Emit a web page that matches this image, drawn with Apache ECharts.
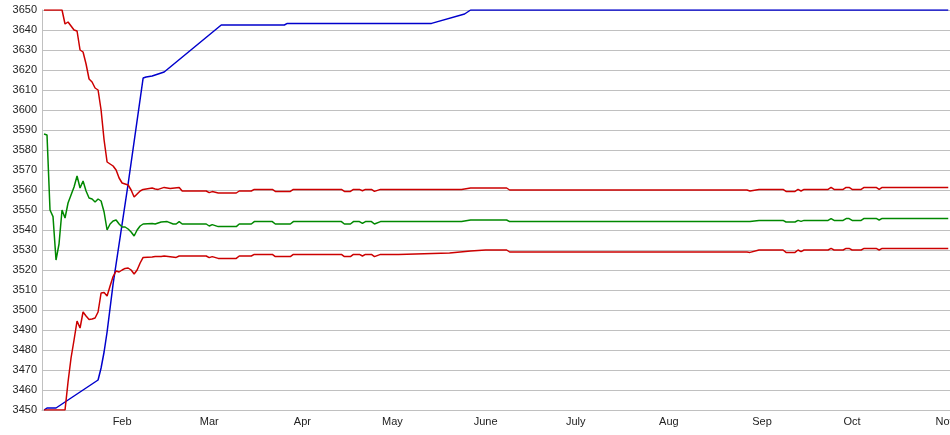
<!DOCTYPE html>
<html><head><meta charset="utf-8">
<script src="https://cdn.jsdelivr.net/npm/echarts@6/dist/echarts.min.js"></script>
<style>html,body{margin:0;padding:0;background:#fff}#c{width:950px;height:435px}</style>
</head><body><div id="c"></div>
<script>
const YEAR = 2012;
const monthTickLabels = ['Jan','Feb','Mar','Apr','May','June','July','Aug','Sep','Oct','Nov','Dec'];

const blueDates = ['01-06','01-07','01-10','01-24','01-25','01-26','01-27','01-29','02-03','02-08','02-09','02-11','02-15','03-05','03-26','03-27','05-14','05-25','05-26','05-27','11-02'];
const blueValues = [3450,3451,3451,3465,3471,3479,3489,3513,3563,3616,3616.5,3617,3619,3642.5,3642.5,3643.3,3643.3,3648,3649,3650,3650];

const upperDates = ['01-06','01-12','01-13','01-14','01-15','01-16','01-17','01-18','01-19','01-20','01-21','01-22','01-23','01-24','01-25','01-26','01-27','01-28','01-29','01-30','01-31','02-01','02-02','02-03','02-04','02-05','02-06','02-07','02-08','02-11','02-12','02-13','02-15','02-17','02-20','02-21','02-29','03-01','03-02','03-04','03-10','03-11','03-15','03-16','03-22','03-23','03-28','03-29','04-14','04-15','04-17','04-18','04-20','04-21','04-22','04-24','04-25','04-27','05-03','05-24','05-27','06-08','06-09','08-27','08-28','08-31','09-08','09-09','09-12','09-13','09-14','09-15','09-23','09-24','09-25','09-28','09-29','09-30','10-01','10-04','10-05','10-09','10-10','10-11','11-02'];
const upperValues = [3650,3650,3643,3644,3642,3640,3639.5,3630,3629,3623,3615.5,3614,3611,3610,3600,3585,3574,3573,3572,3570,3566,3563.5,3563,3562.5,3560,3556.5,3558,3559.5,3560.3,3561,3560.5,3560.3,3561.3,3560.8,3561.3,3559.5,3559.5,3558.7,3559.2,3558.5,3558.5,3559.5,3559.5,3560.3,3560.3,3559.3,3559.3,3560.3,3560.3,3559.3,3559.3,3560.3,3560.3,3559.6,3560.3,3560.3,3559.3,3560.3,3560.3,3560.3,3561,3561,3560,3560,3559.5,3560.3,3560.3,3559.3,3559.3,3560.3,3559.5,3560.3,3560.3,3561.3,3560.3,3560.3,3561.3,3561.3,3560.3,3560.3,3561.3,3561.3,3560.3,3561.3,3561.3];

const greenDates = ['01-06','01-07','01-08','01-09','01-10','01-11','01-12','01-13','01-14','01-15','01-16','01-17','01-18','01-19','01-20','01-21','01-22','01-23','01-24','01-25','01-26','01-27','01-28','01-29','01-30','01-31','02-01','02-02','02-03','02-04','02-05','02-06','02-07','02-08','02-11','02-12','02-14','02-16','02-18','02-19','02-20','02-21','02-29','03-01','03-02','03-04','03-10','03-11','03-15','03-16','03-22','03-23','03-28','03-29','04-14','04-15','04-17','04-18','04-20','04-21','04-22','04-24','04-25','04-27','05-03','05-24','05-27','06-08','06-09','08-27','08-28','08-31','09-08','09-09','09-12','09-13','09-14','09-15','09-23','09-24','09-25','09-28','09-29','09-30','10-01','10-04','10-05','10-09','10-10','10-11','11-02'];
const greenValues = [3588,3587.5,3550,3546.7,3525,3533,3550,3546,3553.5,3557.5,3561.5,3567,3561,3564.5,3559.5,3556,3555.5,3554,3555.5,3554.5,3549,3540,3543,3544.5,3545,3543,3541.5,3541.5,3540.5,3539,3537,3540,3542,3543,3543.3,3543,3544,3544.2,3543,3543,3544.2,3543,3543,3542,3542.7,3541.7,3541.7,3543,3543,3544.2,3544.2,3543,3543,3544.2,3544.2,3543,3543,3544.2,3544.2,3543.3,3544.2,3544.2,3543,3544.2,3544.2,3544.2,3545,3545,3544.2,3544.2,3544.2,3544.8,3544.8,3544,3544,3544.8,3544.3,3544.8,3544.8,3545.7,3544.8,3544.8,3545.7,3545.7,3544.8,3544.8,3545.8,3545.8,3545,3545.8,3545.8];

const lowerDates = ['01-06','01-13','01-14','01-15','01-16','01-17','01-18','01-19','01-20','01-21','01-22','01-23','01-24','01-25','01-26','01-27','01-28','01-29','01-30','01-31','02-01','02-02','02-03','02-04','02-05','02-06','02-07','02-08','02-11','02-12','02-14','02-15','02-19','02-20','02-29','03-01','03-02','03-04','03-10','03-11','03-15','03-16','03-22','03-23','03-28','03-29','04-14','04-15','04-17','04-18','04-20','04-21','04-22','04-24','04-25','04-27','05-03','05-20','05-27','06-01','06-08','06-09','08-27','08-28','08-31','09-08','09-09','09-12','09-13','09-14','09-15','09-23','09-24','09-25','09-28','09-29','09-30','10-01','10-04','10-05','10-09','10-10','10-11','11-02'];
const lowerValues = [3450,3450,3464,3476,3485,3494.5,3491,3499,3497,3495.3,3495.5,3496,3499,3508.5,3508.7,3507,3512,3516.7,3519.5,3519,3520,3520.8,3521,3520,3518,3520,3523.5,3526.3,3526.5,3526.7,3526.7,3527,3526.3,3527,3527,3526.2,3526.7,3525.8,3525.8,3527,3527,3527.8,3527.8,3526.7,3526.7,3527.8,3527.8,3526.7,3526.7,3527.8,3527.8,3527,3527.8,3527.8,3526.7,3527.8,3527.8,3528.5,3529.5,3530,3530,3529,3529,3528.8,3530,3530,3528.8,3528.8,3530,3529.2,3530,3530,3530.8,3530,3530,3530.8,3530.8,3530,3530,3530.8,3530.8,3530,3530.8,3530.8];

function ts(md){ const p = md.split('-').map(Number); return new Date(YEAR, p[0]-1, p[1]).getTime(); }
function pairs(dates, vals){ return dates.map((d,i)=>[ts(d), vals[i]]); }

const DAY = 86400000;
const font = '"Liberation Sans", Arial, sans-serif';
const chart = echarts.init(document.getElementById('c'), null, {renderer:'canvas'});
function mk(name, data, color){
  return {name, type:'line', data, showSymbol:false, symbol:'none', animation:false,
    lineStyle:{color, width:1.5}, itemStyle:{color}};
}
chart.setOption({
  animation:false,
  backgroundColor:'#fff',
  grid:{left:42, right:0, top:10, bottom:25, containLabel:false, outerBoundsMode:'none'},
  xAxis:{type:'time', min:new Date(YEAR,0,5,8).getTime(), max:new Date(YEAR,10,2,14).getTime(),
    splitNumber:10, minInterval:28*DAY, maxInterval:31*DAY,
    axisLine:{show:true, lineStyle:{color:'#c0c0c0', width:1}},
    axisTick:{show:false}, splitLine:{show:false},
    axisLabel:{color:'#222', fontSize:11, fontFamily:font, margin:6, showMinLabel:false, showMaxLabel:false,
      formatter:function(v){ const d = new Date(v); return d.getDate()===1 ? monthTickLabels[d.getMonth()] : ''; }}
  },
  yAxis:{type:'value', min:3450, max:3650, interval:10,
    axisLine:{show:true, lineStyle:{color:'#c0c0c0', width:1}},
    axisTick:{show:false},
    splitLine:{show:true, lineStyle:{color:'#c0c0c0', width:1}},
    axisLabel:{color:'#222', fontSize:11, fontFamily:font, margin:5, formatter:function(v){ return String(v); }}
  },
  series:[
    mk('blue', pairs(blueDates, blueValues), '#0000cc'),
    mk('upper', pairs(upperDates, upperValues), '#cc0000'),
    mk('mid', pairs(greenDates, greenValues), '#008800'),
    mk('lower', pairs(lowerDates, lowerValues), '#cc0000')
  ]
});
</script></body></html>
